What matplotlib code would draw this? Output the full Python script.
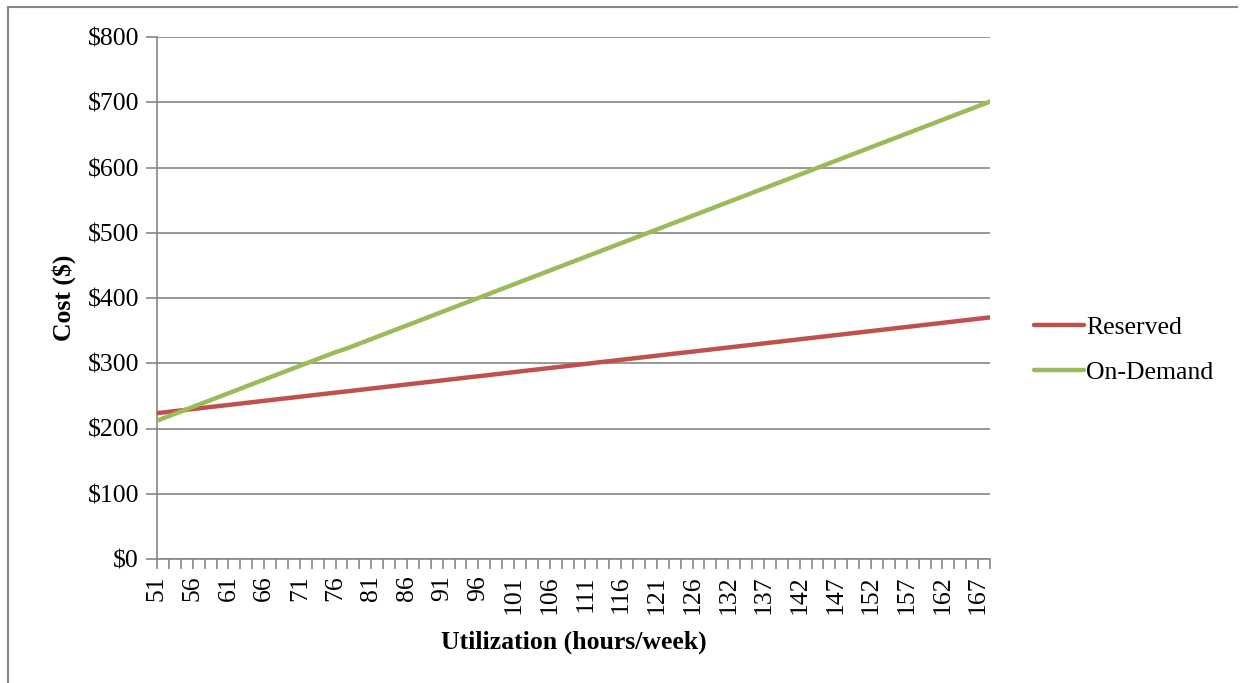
import matplotlib
matplotlib.use("Agg")
import matplotlib.pyplot as plt
from matplotlib.lines import Line2D

### Data
hours = [51, 53, 54, 56, 58, 59, 61, 63, 64, 66, 68, 69, 71, 73, 74, 76, 78, 79,
         81, 83, 84, 86, 88, 90, 91, 93, 95, 96, 98, 100, 101, 103, 105, 106,
         108, 110, 111, 113, 115, 116, 118, 120, 121, 123, 125, 126, 128, 130,
         132, 133, 135, 137, 138, 140, 142, 143, 145, 147, 148, 150, 152, 153,
         155, 157, 158, 160, 162, 163, 165, 167, 168]

reserved = [223.5, 225.6, 227.7, 229.8, 231.9, 234.0, 236.1, 238.2, 240.3, 242.4,
            244.5, 246.6, 248.7, 250.8, 252.9, 255.0, 257.0, 259.1, 261.2, 263.3,
            265.4, 267.5, 269.6, 271.7, 273.8, 275.9, 278.0, 280.1, 282.2, 284.3,
            286.4, 288.5, 290.6, 292.7, 294.8, 296.9, 299.0, 301.1, 303.2, 305.3,
            307.4, 309.5, 311.6, 313.7, 315.8, 317.8, 319.9, 322.0, 324.1, 326.2,
            328.3, 330.4, 332.5, 334.6, 336.7, 338.8, 340.9, 343.0, 345.1, 347.2,
            349.3, 351.4, 353.5, 355.6, 357.7, 359.8, 361.9, 364.0, 366.1, 368.2,
            370.3]

on_demand = [212, 219, 226, 233, 240, 247, 254, 261, 268, 275, 282, 289, 296, 303,
             310, 317, 323, 330, 337, 344, 351, 358, 365, 372, 379, 386, 393, 400,
             407, 414, 421, 428, 435, 442, 449, 456, 463, 470, 477, 484, 491, 498,
             505, 512, 519, 526, 533, 540, 547, 554, 561, 568, 575, 582, 589, 596,
             603, 610, 617, 624, 631, 638, 645, 652, 659, 666, 673, 680, 687, 694,
             701]

y_ticks = [0, 100, 200, 300, 400, 500, 600, 700, 800]

plt.rcParams['font.family'] = ['Liberation Serif', 'DejaVu Serif']
grey = '#868686'
fs = 18.5

fig = plt.figure(figsize=(12.45, 6.83), dpi=100)
ax = fig.add_axes([157/1245, 1 - 559/683, (990-157)/1245, (559-37)/683])

idx = list(range(len(hours)))
ax.plot(idx, reserved, color='#C0504D', lw=3.2, solid_capstyle='round', label='Reserved', zorder=3)
ax.plot(idx, on_demand, color='#9BBB59', lw=3.2, solid_capstyle='round', label='On-Demand', zorder=3)

ax.set_xlim(0, len(hours) - 1)
ax.set_ylim(0, 800)
ax.set_yticks(y_ticks)
ax.set_yticklabels(['${:d}'.format(v) for v in y_ticks], fontsize=fs)
ax.yaxis.grid(True, color=grey, lw=1.2)
ax.set_axisbelow(True)

ax.set_xticks(idx, minor=True)
ax.set_xticks(idx[::3])
ax.set_xticklabels([str(hours[i]) for i in idx[::3]], rotation=90, fontsize=fs)
ax.tick_params(axis='x', which='both', length=7, color=grey, width=1.2, pad=5)
ax.tick_params(axis='y', length=8, color=grey, width=1.2, pad=5)

for s in ['top', 'right']:
    ax.spines[s].set_visible(False)
for s in ['left', 'bottom']:
    ax.spines[s].set_color(grey)
    ax.spines[s].set_linewidth(1.2)

ax.set_ylabel('Cost ($)', fontsize=fs, fontweight='bold', labelpad=8)
ax.set_xlabel('Utilization (hours/week)', fontsize=fs, fontweight='bold', labelpad=12)

ax.legend(loc='center left', bbox_to_anchor=(1.04, 0.40), frameon=False, fontsize=fs,
          handlelength=1.95, handletextpad=0.1, labelspacing=0.85, borderaxespad=0)

### outer frame (left and top only visible)
fig.add_artist(Line2D([8/1245, 8/1245], [0, 1 - 7/683], color=grey, lw=1.5))
fig.add_artist(Line2D([8/1245, 1237/1245], [1 - 7/683, 1 - 7/683], color=grey, lw=1.5))

fig.savefig('out.png', dpi=100, facecolor='white')
